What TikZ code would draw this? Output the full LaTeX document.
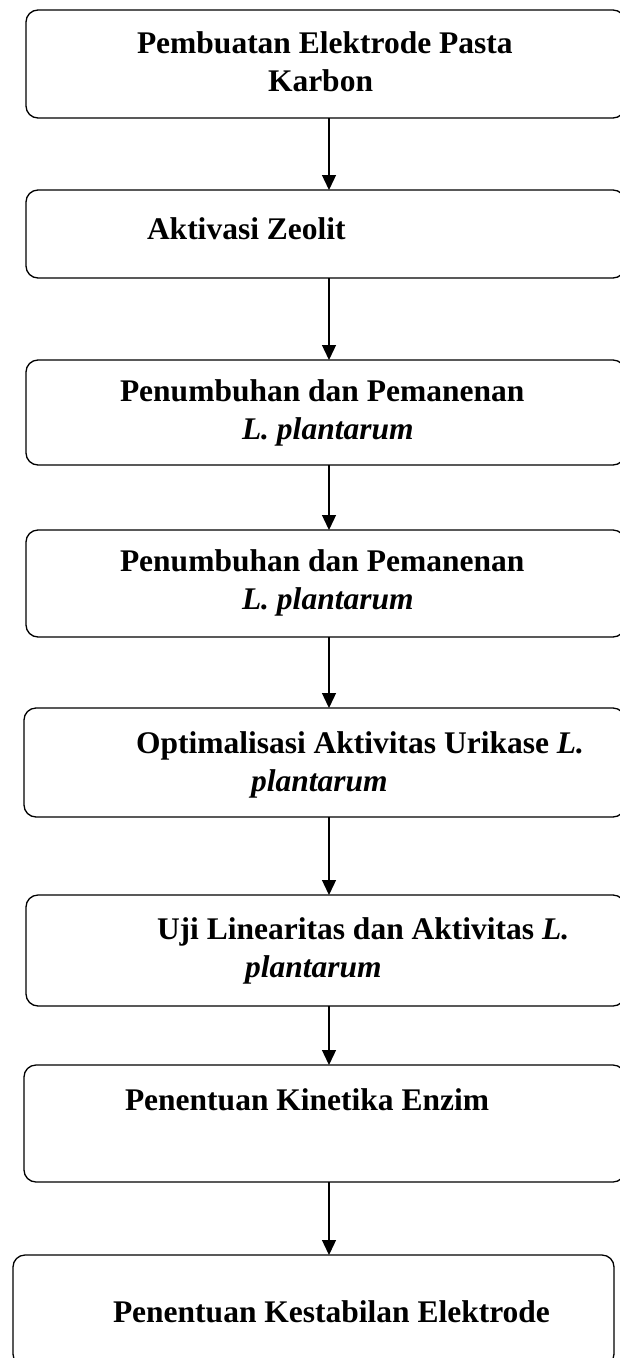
\documentclass[tikz,border=0pt]{standalone}
\usepackage{fontspec}
\setmainfont{Liberation Serif}
\usetikzlibrary{arrows.meta}
\begin{document}
\begin{tikzpicture}[x=1pt,y=-1pt,
  box/.style={draw, line width=1.3pt, rounded corners=12pt, inner sep=0pt, outer sep=0pt},
  txt/.style={anchor=base west, inner sep=0pt, outer sep=0pt, font=\bfseries\fontsize{31.5}{38}\selectfont},
  arr/.style={line width=1.3pt, -{Triangle[length=15pt,width=14pt]}}]
\useasboundingbox (0,0) rectangle (620,1358);
\fill[white] (0,0) rectangle (620,1358);
\coordinate (ax) at (329,0);
\node[box, minimum width=599pt, minimum height=108pt] (b1) at (325.5,64) {};
\node[box, minimum width=599pt, minimum height=88pt] (b2) at (325.5,234) {};
\node[box, minimum width=599pt, minimum height=105pt] (b3) at (325.5,412.5) {};
\node[box, minimum width=599pt, minimum height=107pt] (b4) at (325.5,583.5) {};
\node[box, minimum width=601pt, minimum height=109pt] (b5) at (324.5,762.5) {};
\node[box, minimum width=599pt, minimum height=111pt] (b6) at (325.5,950.5) {};
\node[box, minimum width=601pt, minimum height=117pt] (b7) at (324.5,1123.5) {};
\node[box, minimum width=601pt, minimum height=111pt] (b8) at (313.5,1310.5) {};
\node[txt] (t1a) at (137,53) {Pembuatan Elektrode Pasta};
\node[txt] (t1b) at (268,91.5) {Karbon};
\node[txt] (t2) at (147,239) {Aktivasi Zeolit};
\node[txt] (t3a) at (120,401) {Penumbuhan dan Pemanenan};
\node[txt] (t3b) at (242,439) {\itshape L. plantarum};
\node[txt] (t4a) at (120,571) {Penumbuhan dan Pemanenan};
\node[txt] (t4b) at (242,609) {\itshape L. plantarum};
\node[txt] (t5a) at (136,753) {Optimalisasi Aktivitas Urikase \textit{L.}};
\node[txt] (t5b) at (251,791) {\itshape plantarum};
\node[txt] (t6a) at (157,939) {Uji Linearitas dan Aktivitas \textit{L.}};
\node[txt] (t6b) at (245,977) {\itshape plantarum};
\node[txt] (t7) at (125,1110) {Penentuan Kinetika Enzim};
\node[txt] (t8) at (113,1322) {Penentuan Kestabilan Elektrode};
\draw[arr] (b1.south -| ax) -- (b2.north -| ax);
\draw[arr] (b2.south -| ax) -- (b3.north -| ax);
\draw[arr] (b3.south -| ax) -- (b4.north -| ax);
\draw[arr] (b4.south -| ax) -- (b5.north -| ax);
\draw[arr] (b5.south -| ax) -- (b6.north -| ax);
\draw[arr] (b6.south -| ax) -- (b7.north -| ax);
\draw[arr] (b7.south -| ax) -- (b8.north -| ax);
\end{tikzpicture}
\end{document}
